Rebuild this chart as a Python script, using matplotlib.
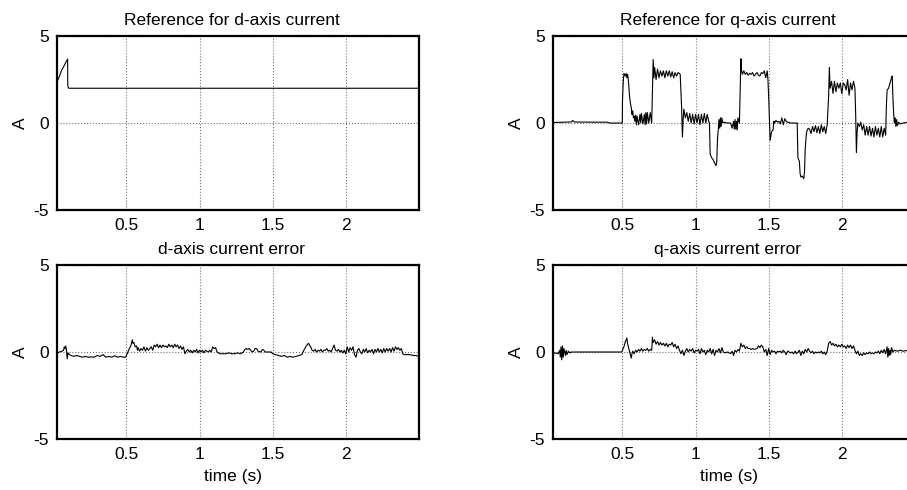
import matplotlib
matplotlib.use("Agg")
import matplotlib.pyplot as plt

plt.rcParams['font.family'] = ['Liberation Sans', 'DejaVu Sans']
plt.rcParams['font.size'] = 12.5
plt.rcParams['axes.unicode_minus'] = False

# ---- data ----
# reference for d-axis current
t_dref = [0.025, 0.035, 0.045, 0.055, 0.065, 0.08, 0.098, 0.099, 0.105, 2.5]
i_dref = [2.35, 2.55, 2.75, 3.0, 3.15, 3.4, 3.68, 2.15, 2.0, 2.0]

# reference for q-axis current
t_qref = [0.025, 0.10, 0.15, 0.16, 0.17, 0.30, 0.40, 0.41, 0.499,
          0.50, 0.505, 0.51, 0.52, 0.525, 0.53, 0.535, 0.54,
          0.548, 0.555, 0.56, 0.565, 0.57, 0.575, 0.58, 0.585, 0.59, 0.595, 0.60, 0.61, 0.62, 0.625,
          0.63, 0.64, 0.65, 0.655, 0.66, 0.665, 0.67, 0.68, 0.69, 0.70,
          0.71, 0.715, 0.72, 0.73, 0.74, 0.75, 0.76, 0.77, 0.78, 0.79, 0.80, 0.81, 0.82, 0.83, 0.84,
          0.85, 0.86, 0.87, 0.88, 0.89, 0.895,
          0.905, 0.91, 0.915, 0.92, 0.93, 0.94, 0.95, 0.96, 0.97, 0.98, 0.99, 1.0, 1.01, 1.02, 1.03,
          1.04, 1.05, 1.06, 1.07, 1.08, 1.09, 1.095,
          1.10, 1.11, 1.12, 1.13, 1.14, 1.145, 1.15, 1.155, 1.16, 1.165, 1.17, 1.175, 1.18, 1.185,
          1.19, 1.22, 1.24, 1.25, 1.26, 1.265, 1.27, 1.275, 1.28, 1.285, 1.29, 1.30,
          1.305, 1.31, 1.315, 1.32, 1.33, 1.34, 1.35, 1.36, 1.37, 1.38, 1.39, 1.40, 1.41, 1.42, 1.43,
          1.44, 1.45, 1.46, 1.47, 1.48, 1.49, 1.495,
          1.50, 1.505, 1.51, 1.52, 1.53, 1.535, 1.54, 1.55, 1.56, 1.57, 1.58, 1.59, 1.60, 1.61, 1.62,
          1.63, 1.65, 1.67, 1.69, 1.695,
          1.70, 1.71, 1.715, 1.72, 1.73, 1.74, 1.745, 1.75, 1.755, 1.76, 1.77, 1.78, 1.79, 1.80, 1.81,
          1.82, 1.83, 1.84, 1.85, 1.86, 1.87, 1.88, 1.89, 1.90,
          1.91, 1.915, 1.92, 1.93, 1.94, 1.95, 1.96, 1.97, 1.98, 1.99, 2.00, 2.01, 2.02, 2.03, 2.04,
          2.05, 2.06, 2.07, 2.08, 2.09,
          2.095, 2.10, 2.105, 2.11, 2.12, 2.13, 2.14, 2.15, 2.16, 2.17, 2.18, 2.19, 2.20, 2.21, 2.22,
          2.23, 2.24, 2.25, 2.26, 2.27, 2.28, 2.29, 2.30,
          2.305, 2.31, 2.32, 2.33, 2.34, 2.345, 2.35, 2.355, 2.36, 2.365, 2.37, 2.375, 2.38, 2.39,
          2.40, 2.42, 2.45, 2.5]
i_qref = [0.03, 0.05, 0.06, 0.15, 0.06, 0.05, 0.05, 0.0, 0.0,
          1.2, 2.3, 2.85, 2.7, 2.85, 2.6, 2.8, 2.5,
          1.6, 1.1, 0.9, 0.5, 0.7, 0.3, 0.4, 0.1, 0.45, -0.1, 0.4, -0.1, 0.5, 0.0,
          0.55, -0.05, 0.5, -0.1, 0.6, -0.05, 0.6, 0.0, 0.6, 0.0,
          3.65, 2.6, 3.2, 2.5, 3.1, 2.6, 3.0, 2.7, 3.0, 2.6, 3.0, 2.7, 3.0, 2.65, 2.95,
          2.6, 2.9, 2.7, 2.9, 2.85, 2.8,
          0.8, -0.8, 0.2, 0.8, 0.3, 0.6, 0.1, 0.55, 0.0, 0.5, -0.05, 0.5, 0.0, 0.5, -0.1,
          0.5, 0.0, 0.55, 0.0, 0.5, 0.1, 0.0,
          -1.8, -2.0, -2.1, -2.3, -2.45, -2.2, -0.9, -0.4, 0.2, -0.3, 0.3, -0.2, 0.3, 0.0,
          0.05, 0.0, 0.0, -0.3, 0.1, -0.35, 0.2, -0.35, 0.1, -0.4, 0.3, 0.0,
          2.0, 3.7, 3.0, 2.8, 3.0, 2.8, 2.9, 2.75, 2.85, 2.8, 2.9, 2.7, 2.8, 2.9, 2.75,
          2.7, 2.9, 2.85, 3.0, 2.6, 3.0, 2.5,
          1.5, 0.3, -1.0, -0.5, -0.4, 0.1, 0.0, 0.15, 0.05, 0.1, -0.05, 0.3, -0.1, 0.25, 0.1,
          0.05, 0.0, 0.0, 0.0, 0.0,
          -2.0, -2.2, -2.9, -3.1, -3.05, -3.2, -2.8, -1.5, -0.9, -0.5, -0.3, -0.35, -0.6, -0.2, -0.5,
          -0.15, -0.55, -0.2, -0.6, -0.1, -0.5, -0.2, -0.6, -0.1,
          1.5, 3.2, 2.0, 2.4, 1.7, 2.4, 1.8, 2.3, 2.0, 2.3, 1.7, 2.3, 2.2, 1.9, 2.5,
          1.6, 2.3, 1.9, 2.4, 2.0,
          0.5, -1.7, -0.5, 0.0, -0.2, 0.05, -0.4, -0.1, -0.7, -0.2, -0.7, -0.2, -0.75, -0.3, -0.8,
          -0.2, -0.7, -0.3, -0.8, -0.2, -0.8, -0.3, -0.7,
          1.0, 1.9, 2.0, 2.3, 2.6, 2.7, 1.4, 0.5, 0.0, 0.3, -0.2, 0.2, -0.15, 0.05,
          -0.05, 0.0, 0.05, 0.05]

# d-axis current error
t_derr = [0.025, 0.04, 0.06, 0.07, 0.075, 0.08, 0.085, 0.09, 0.095, 0.10, 0.11, 0.12, 0.14, 0.16,
          0.18, 0.20, 0.22, 0.24, 0.26, 0.28, 0.30, 0.32, 0.34, 0.36, 0.38, 0.40, 0.42, 0.44, 0.46,
          0.48, 0.495,
          0.505, 0.52, 0.53, 0.54, 0.545, 0.55, 0.56, 0.57, 0.575, 0.58, 0.59, 0.60, 0.61, 0.62,
          0.63, 0.64, 0.65, 0.66, 0.67, 0.68, 0.69, 0.70, 0.71, 0.72, 0.73, 0.74, 0.75, 0.76, 0.77,
          0.78, 0.79, 0.80, 0.81, 0.82, 0.83, 0.84, 0.85, 0.86, 0.87, 0.88, 0.89,
          0.90, 0.91, 0.92, 0.93, 0.94, 0.95, 0.96, 0.97, 0.98, 0.99, 1.00, 1.01, 1.02, 1.03, 1.04,
          1.05, 1.06, 1.07, 1.08, 1.09, 1.10, 1.11, 1.12, 1.13, 1.14, 1.16, 1.18, 1.20, 1.22, 1.24,
          1.26, 1.28, 1.30, 1.31, 1.32, 1.33, 1.34, 1.35, 1.36, 1.37, 1.38, 1.39, 1.40, 1.42, 1.43,
          1.44, 1.45, 1.47, 1.49,
          1.50, 1.52, 1.54, 1.56, 1.58, 1.60, 1.62, 1.64, 1.66, 1.68, 1.70, 1.71, 1.72, 1.73, 1.745,
          1.76, 1.77, 1.78, 1.79, 1.80, 1.81, 1.82, 1.83, 1.84, 1.85, 1.86, 1.87, 1.88, 1.89, 1.90,
          1.91, 1.92, 1.93, 1.94, 1.95, 1.96, 1.97, 1.98, 1.99, 2.00, 2.01, 2.02, 2.03, 2.04, 2.05,
          2.06, 2.07, 2.08, 2.09, 2.10, 2.11, 2.12, 2.13, 2.14, 2.15, 2.16, 2.17, 2.18, 2.19, 2.20,
          2.21, 2.22, 2.23, 2.24, 2.25, 2.26, 2.27, 2.28, 2.29, 2.30, 2.31, 2.32, 2.33, 2.34, 2.35,
          2.36, 2.37, 2.38, 2.39, 2.40, 2.42, 2.44, 2.46, 2.48, 2.50]
i_derr = [-0.08, 0.0, 0.05, 0.1, 0.3, 0.2, 0.35, 0.1, -0.4, -0.05, -0.15, -0.2, -0.25, -0.2,
          -0.25, -0.3, -0.25, -0.3, -0.28, -0.3, -0.2, -0.25, -0.15, -0.3, -0.25, -0.3, -0.22, -0.3, -0.25,
          -0.3, -0.3,
          -0.1, 0.2, 0.35, 0.7, 0.5, 0.55, 0.3, 0.35, 0.1, 0.25, 0.05, 0.2, 0.1, 0.3,
          0.05, 0.25, 0.1, 0.2, 0.3, 0.1, 0.4, 0.3, 0.45, 0.25, 0.4, 0.25, 0.4, 0.3, 0.35,
          0.25, 0.45, 0.3, 0.4, 0.25, 0.45, 0.3, 0.4, 0.2, 0.35, 0.15, 0.3,
          -0.1, 0.05, 0.15, 0.0, 0.1, -0.05, 0.1, 0.0, 0.15, -0.05, 0.1, 0.0, 0.1, -0.05, 0.1,
          0.05, 0.0, 0.1, 0.0, 0.3, 0.2, 0.25, 0.0, -0.05, -0.1, -0.1, -0.1, -0.05, -0.1, -0.1,
          -0.05, -0.1, 0.0, 0.15, 0.2, 0.15, 0.2, 0.1, 0.0, 0.05, 0.2, 0.2, 0.05, 0.0, 0.15,
          0.1, 0.0, 0.0, 0.0,
          -0.1, -0.15, -0.2, -0.25, -0.2, -0.3, -0.25, -0.3, -0.25, -0.2, -0.15, 0.05, 0.2, 0.35, 0.5,
          0.3, 0.1, 0.05, 0.15, 0.0, 0.1, 0.05, 0.15, 0.0, 0.1, 0.1, 0.2, 0.05, 0.1, 0.0,
          0.2, 0.4, 0.1, 0.05, 0.15, 0.0, 0.1, -0.05, 0.1, -0.1, 0.3, 0.0, 0.25, 0.1, 0.3,
          -0.15, -0.3, 0.1, 0.2, 0.0, -0.1, 0.15, 0.0, 0.2, -0.05, 0.1, 0.0, 0.15, -0.1, 0.15,
          0.0, 0.2, 0.0, 0.15, -0.05, 0.2, 0.0, 0.2, 0.05, 0.2, 0.0, 0.25, 0.05, 0.3, 0.15,
          0.25, 0.1, 0.2, -0.1, -0.15, -0.15, -0.15, -0.2, -0.2, -0.25]

# q-axis current error
t_qerr = [0.027, 0.04, 0.06, 0.07, 0.075, 0.08, 0.085, 0.09, 0.095, 0.10, 0.11, 0.115, 0.12, 0.13,
          0.14, 0.15, 0.30, 0.495,
          0.50, 0.51, 0.52, 0.53, 0.535, 0.54, 0.55, 0.56, 0.565, 0.57, 0.58, 0.59, 0.60, 0.61, 0.62,
          0.63, 0.64, 0.65, 0.66, 0.67, 0.68, 0.69, 0.70,
          0.705, 0.71, 0.72, 0.73, 0.74, 0.75, 0.76, 0.77, 0.78, 0.79, 0.80, 0.81, 0.82, 0.83, 0.84,
          0.85, 0.86, 0.87, 0.88, 0.89,
          0.90, 0.91, 0.92, 0.93, 0.94, 0.95, 0.96, 0.97, 0.98, 0.99, 1.00, 1.01, 1.02, 1.03, 1.04,
          1.05, 1.06, 1.07, 1.08, 1.09, 1.10, 1.11, 1.12, 1.13, 1.14, 1.15, 1.16, 1.17, 1.18, 1.19,
          1.20, 1.22, 1.24, 1.25, 1.26, 1.27, 1.28, 1.29, 1.30,
          1.31, 1.32, 1.33, 1.34, 1.35, 1.36, 1.37, 1.38, 1.39, 1.40, 1.42, 1.43, 1.44, 1.45, 1.46,
          1.47, 1.48, 1.49, 1.50, 1.51, 1.52, 1.53, 1.54, 1.55, 1.56, 1.57, 1.58, 1.59, 1.60, 1.61,
          1.62, 1.63, 1.64, 1.65, 1.66, 1.67, 1.68, 1.69, 1.70, 1.71, 1.72, 1.73, 1.74, 1.75, 1.76,
          1.77, 1.78, 1.79, 1.80, 1.81, 1.82, 1.83, 1.84, 1.85, 1.86, 1.87, 1.88, 1.89, 1.90,
          1.91, 1.92, 1.93, 1.94, 1.95, 1.96, 1.97, 1.98, 1.99, 2.00, 2.01, 2.02, 2.03, 2.04, 2.05,
          2.06, 2.07, 2.08, 2.09,
          2.10, 2.11, 2.12, 2.13, 2.14, 2.15, 2.16, 2.17, 2.18, 2.19, 2.20, 2.21, 2.22, 2.23, 2.24,
          2.25, 2.26, 2.27, 2.28, 2.29, 2.30, 2.31, 2.315, 2.32, 2.325, 2.33, 2.335, 2.34, 2.35,
          2.36, 2.38, 2.40, 2.42, 2.45, 2.5]
i_qerr = [-0.1, -0.05, -0.1, 0.1, -0.3, 0.3, -0.45, 0.35, -0.3, 0.2, -0.2, 0.1, -0.15, 0.05,
          -0.05, 0.0, 0.0, 0.0,
          0.1, 0.3, 0.6, 0.8, 0.5, 0.3, 0.0, -0.35, -0.1, 0.05, -0.1, 0.1, 0.0, 0.15, 0.05,
          0.2, 0.05, 0.15, 0.1, 0.2, 0.05, 0.15, 0.1,
          0.85, 0.55, 0.7, 0.45, 0.6, 0.4, 0.55, 0.4, 0.5, 0.35, 0.5, 0.3, 0.45, 0.4, 0.55,
          0.3, 0.45, 0.2, 0.35, 0.1,
          -0.1, 0.1, -0.2, 0.05, 0.2, 0.0, 0.15, 0.05, 0.2, -0.05, 0.1, 0.05, 0.15, -0.1, 0.2,
          0.0, 0.1, -0.15, 0.1, 0.0, 0.2, -0.1, 0.15, -0.2, 0.1, 0.0, 0.2, -0.05, 0.25, 0.0,
          -0.05, 0.0, -0.1, 0.05, -0.2, 0.1, 0.0, 0.15, 0.05,
          0.5, 0.3, 0.4, 0.2, 0.3, 0.2, 0.2, 0.15, 0.2, 0.15, 0.2, 0.35, 0.25, 0.4, 0.3,
          0.0, 0.15, -0.2, 0.2, -0.15, 0.1, 0.0, 0.05, -0.1, 0.05, 0.0, 0.05, -0.05, 0.1, 0.0,
          -0.15, 0.05, 0.0, -0.05, 0.0, -0.1, 0.05, -0.1, 0.0, 0.1, -0.2, 0.05, -0.1, 0.15, 0.0,
          0.2, 0.05, -0.05, 0.05, -0.1, 0.0, -0.05, 0.0, -0.05, 0.05, -0.1, 0.0, -0.15, 0.05,
          0.5, 0.6, 0.4, 0.5, 0.35, 0.45, 0.3, 0.4, 0.3, 0.45, 0.3, 0.35, 0.2, 0.4, 0.25,
          0.4, 0.2, 0.35, 0.1,
          -0.1, 0.05, -0.2, -0.1, -0.2, -0.05, -0.15, -0.05, -0.1, 0.0, -0.1, -0.05, -0.1, 0.0, -0.05,
          0.05, -0.1, 0.1, -0.05, 0.15, -0.1, 0.3, -0.3, 0.2, -0.2, 0.1, -0.15, 0.25, 0.0,
          0.1, 0.05, 0.1, 0.05, 0.1, 0.1]

panels = [
    (t_dref, i_dref, "Reference for d-axis current", False),
    (t_qref, i_qref, "Reference for q-axis current", False),
    (t_derr, i_derr, "d-axis current error", True),
    (t_qerr, i_qerr, "q-axis current error", True),
]

# axes boxes in figure fractions (right column runs past the figure edge like the original)
boxes = [
    [0.0628, 0.5714, 0.399, 0.355],
    [0.6097, 0.5714, 0.399, 0.355],
    [0.0628, 0.1041, 0.399, 0.355],
    [0.6097, 0.1041, 0.399, 0.355],
]

fig = plt.figure(figsize=(9.07, 4.9), dpi=100)

for (t, y, title, bottom), box in zip(panels, boxes):
    ax = fig.add_axes(box)
    ax.plot(t, y, color='black', lw=0.8)
    ax.set_xlim(0.025, 2.5)
    ax.set_ylim(-5, 5)
    ax.set_xticks([0.5, 1, 1.5, 2])
    ax.set_xticklabels(['0.5', '1', '1.5', '2'])
    ax.set_yticks([-5, 0, 5])
    ax.grid(True, linestyle=':', color='0.45', lw=0.8)
    ax.tick_params(length=0, pad=6)
    for s in ax.spines.values():
        s.set_linewidth(1.6)
    ax.set_title(title, fontsize=12.5, pad=8, x=0.483)
    ax.set_ylabel('A', labelpad=4)
    if bottom:
        ax.set_xlabel('time (s)', labelpad=5, x=0.486)

fig.savefig('out.png', dpi=100)
